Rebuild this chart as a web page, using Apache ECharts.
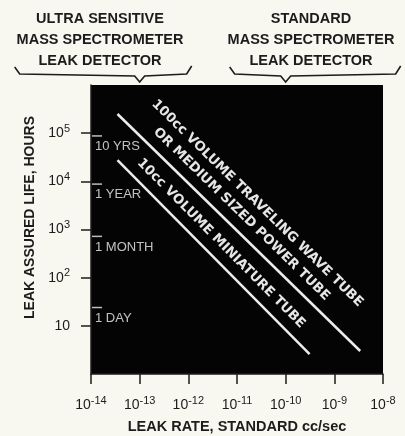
<!DOCTYPE html>
<html><head><meta charset="utf-8">
<script src="https://cdn.jsdelivr.net/npm/echarts@6/dist/echarts.min.js"></script>
<style>html,body{margin:0;padding:0;background:#f8f7f0}#c{width:405px;height:436px}</style>
</head><body><div id="c"></div>
<script>
// ---- data ----
const leakRateTicks = [1e-14, 1e-13, 1e-12, 1e-11, 1e-10, 1e-9, 1e-8];
const lifeTicks = [10, 100, 1000, 10000, 100000];
const tube100ccRate = [3.5e-14, 3.4e-9];
const tube100ccLife = [2.5e5, 3.0];
const tube10ccRate = [3.5e-14, 3.1e-10];
const tube10ccLife = [2.75e4, 2.6];
const lifeMarkHours = [87600, 8760, 720, 24];
const lifeMarkNames = ['10 YRS', '1 YEAR', '1 MONTH', '1 DAY'];
const tube100ccLabel = ['100cc VOLUME TRAVELING WAVE TUBE', 'OR MEDIUM SIZED POWER TUBE'];
const tube10ccLabel = '10cc VOLUME MINIATURE TUBE';
const detectorTitles = [
  ['ULTRA SENSITIVE', 'MASS SPECTROMETER', 'LEAK DETECTOR'],
  ['STANDARD', 'MASS SPECTROMETER', 'LEAK DETECTOR']
];
const detectorRates = [1e-13, 1e-10];

// ---- chart ----
const INK = '#1c1c1c';
const chart = echarts.init(document.getElementById('c'), null, {renderer: 'canvas'});
const expOf = v => Math.round(Math.log10(v));
const richLbl = {
  b: {fontSize: 14, fontFamily: 'Liberation Sans', color: INK},
  s: {fontSize: 11, fontFamily: 'Liberation Sans', color: INK, padding: [0, 0, 9, 0]}
};
chart.setOption({
  backgroundColor: '#f8f7f0',
  animation: false,
  grid: {left: 91, right: 22, top: 85, bottom: 62, show: true, backgroundColor: '#040404', borderWidth: 0,
    containLabel: false, outerBoundsMode: 'none'},
  xAxis: {
    type: 'log', logBase: 10, min: 1e-14, max: 1e-8,
    name: 'LEAK RATE, STANDARD cc/sec', nameLocation: 'middle', nameGap: 45,
    nameTextStyle: {fontFamily: 'Liberation Sans', fontWeight: 'bold', fontSize: 14.5, color: INK},
    axisLine: {show: true, lineStyle: {color: INK, width: 1.5}},
    axisTick: {show: true, length: 10, lineStyle: {color: INK, width: 1.5}, customValues: leakRateTicks},
    axisLabel: {margin: 21, customValues: leakRateTicks, rich: richLbl,
      formatter: v => '{b|10}{s|' + expOf(v) + '}'},
    splitLine: {show: false}, minorTick: {show: false}
  },
  yAxis: {
    type: 'log', logBase: 10, min: 1, max: 1e6,
    name: 'LEAK ASSURED LIFE, HOURS', nameLocation: 'middle', nameGap: 51, nameRotate: 90,
    nameTextStyle: {fontFamily: 'Liberation Sans', fontWeight: 'bold', fontSize: 14, color: INK, padding: [0, 0, 0, 24]},
    axisLine: {show: true, lineStyle: {color: INK, width: 1.5}},
    axisTick: {show: true, length: 10, lineStyle: {color: INK, width: 1.5}, customValues: lifeTicks},
    axisLabel: {margin: 21, customValues: lifeTicks, rich: richLbl,
      formatter: v => expOf(v) === 1 ? '{b|10}' : '{b|10}{s|' + expOf(v) + '}'},
    splitLine: {show: false}, minorTick: {show: false}
  },
  series: [
    {type: 'line', data: tube100ccRate.map((x, i) => [x, tube100ccLife[i]]), symbol: 'none',
      lineStyle: {color: '#ececec', width: 2.5}, z: 5},
    {type: 'line', data: tube10ccRate.map((x, i) => [x, tube10ccLife[i]]), symbol: 'none',
      lineStyle: {color: '#ececec', width: 2.5}, z: 5},
    {type: 'scatter', clip: false, symbol: 'rect', symbolSize: [10, 1.5], symbolOffset: [6, 0],
      itemStyle: {color: '#ececec'},
      data: lifeMarkHours.map((h, i) => ({value: [leakRateTicks[0], h], name: lifeMarkNames[i]})),
      label: {show: true, formatter: p => p.name, position: [3, 5], align: 'left', verticalAlign: 'top',
        color: '#f0f0f0', fontFamily: 'Liberation Sans', fontSize: 13}, z: 6}
  ]
});

// ---- annotations positioned from the axes ----
function px(x, y) { return chart.convertToPixel({gridIndex: 0}, [x, y]); }
const g = [];
// top titles + braces
const titleCx = [100, 311];
const braceSpan = [[-125, 52], [-56, 115]];
detectorRates.forEach((r, k) => {
  const tip = px(r, 1e6)[0];
  detectorTitles[k].forEach((t, j) => {
    g.push({type: 'text', x: titleCx[k], y: 19 + j * 21,
      style: {text: t, fill: INK, font: 'bold 14.5px "Liberation Sans"', align: 'center', verticalAlign: 'middle'}});
  });
  const L = tip + braceSpan[k][0], R = tip + braceSpan[k][1];
  g.push({type: 'polyline', shape: {points: [[L, 67], [L + 5, 74], [tip - 5, 76], [tip, 82], [tip + 5, 76], [R - 5, 74], [R, 66]]},
    style: {stroke: INK, lineWidth: 1.6, fill: null}});
});
// diagonal labels
function diag(rates, lifes, text, frac, perp) {
  const p1 = px(rates[0], lifes[0]), p2 = px(rates[1], lifes[1]);
  const a = Math.atan2(p2[1] - p1[1], p2[0] - p1[0]);
  const cx = p1[0] + frac * (p2[0] - p1[0]) + perp * Math.sin(a);
  const cy = p1[1] + frac * (p2[1] - p1[1]) - perp * Math.cos(a);
  g.push({type: 'text', x: cx, y: cy, rotation: -a, z: 10,
    style: {text: text, fill: '#e6e6e6', font: 'bold 13.3px "DejaVu Sans"', align: 'center', verticalAlign: 'middle'}});
}
diag(tube100ccRate, tube100ccLife, tube100ccLabel[0], 0.479, 33.7);
diag(tube100ccRate, tube100ccLife, tube100ccLabel[1], 0.468, 15);
diag(tube10ccRate, tube10ccLife, tube10ccLabel, 0.484, 15);
chart.setOption({graphic: g});
</script></body></html>
